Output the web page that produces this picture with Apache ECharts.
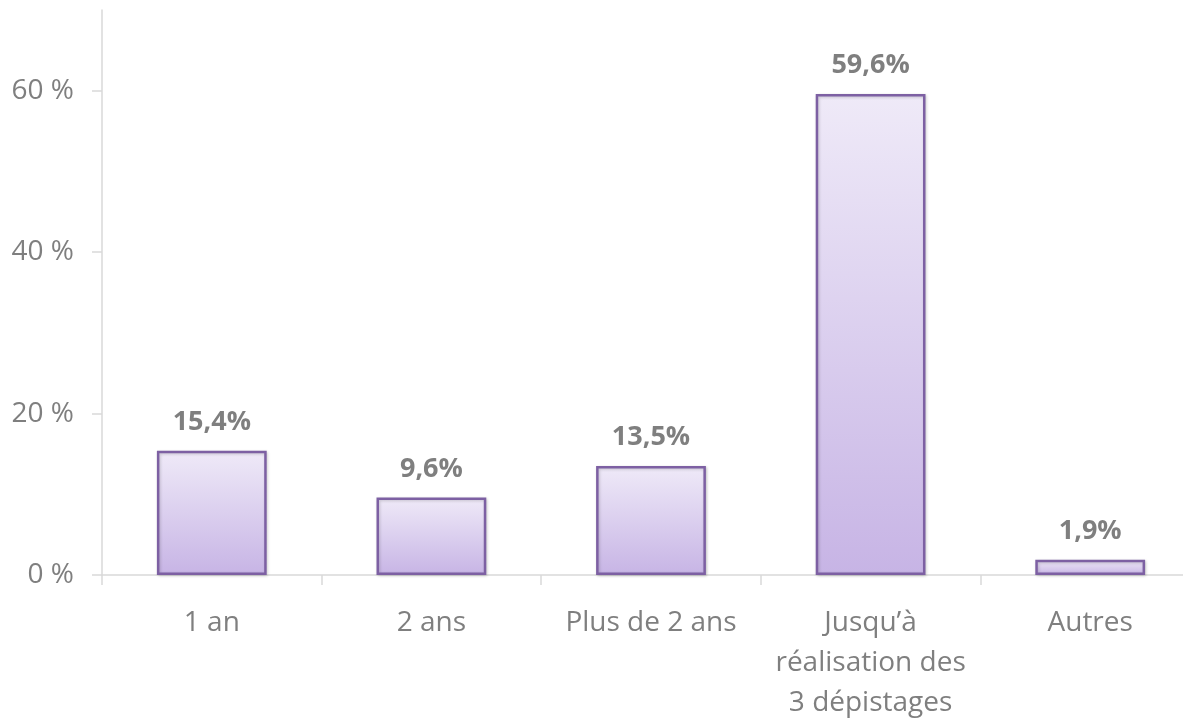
<!DOCTYPE html>
<html>
<head>
<meta charset="utf-8">
<script src="https://cdn.jsdelivr.net/npm/echarts@6/dist/echarts.min.js"></script>
<style>
  html, body { margin: 0; padding: 0; background: #ffffff; overflow: hidden; }
  #chart { width: 1183px; height: 718px; }
</style>
</head>
<body>
<div id="chart"></div>
<script>
// Durée de suivi : répartition en pourcentage
const categories = ['1 an', '2 ans', 'Plus de 2 ans', 'Jusqu\u2019à\nréalisation des\n3 dépistages', 'Autres'];
const values = [15.4, 9.6, 13.5, 59.6, 1.9];
const yTicks = [0, 20, 40, 60];

const textGray = '#7f7f7f';
const axisGray = '#d9d9d9';
const fontFamily = '"Open Sans", "Noto Sans", sans-serif';

const chart = echarts.init(document.getElementById('chart'), null, { renderer: 'canvas' });

chart.setOption({
  backgroundColor: '#ffffff',
  animation: false,
  // the plot area runs a little past the right edge of the canvas
  grid: { left: 102, width: 1098, top: 10, bottom: 143, outerBoundsMode: 'none', containLabel: false },
  xAxis: {
    type: 'category',
    data: categories,
    axisLine: { show: true, lineStyle: { color: axisGray, width: 1.5 } },
    axisTick: { show: true, length: 10, lineStyle: { color: axisGray, width: 1.5 } },
    axisLabel: {
      color: textGray,
      fontFamily: fontFamily,
      fontSize: 28,
      lineHeight: 40,
      margin: 28,
      interval: 0
    },
    splitLine: { show: false }
  },
  yAxis: {
    type: 'value',
    min: 0,
    max: 70,
    interval: 10,
    axisLine: { show: true, lineStyle: { color: axisGray, width: 1.5 } },
    axisTick: {
      show: true,
      length: 10,
      customValues: yTicks,
      lineStyle: { color: axisGray, width: 1.5 }
    },
    axisLabel: {
      color: textGray,
      fontFamily: fontFamily,
      fontSize: 28,
      margin: 28,
      customValues: yTicks,
      formatter: v => v + ' %'
    },
    splitLine: { show: false }
  },
  series: [{
    type: 'bar',
    data: values,
    barWidth: '50%',
    itemStyle: {
      color: new echarts.graphic.LinearGradient(0, 0, 0, 1, [
        { offset: 0, color: '#efeaf8' },
        { offset: 1, color: '#c7b4e5' }
      ]),
      borderColor: '#7d60a3',
      borderWidth: 2.5,
      shadowColor: 'rgba(0,0,0,0.18)',
      shadowBlur: 3,
      shadowOffsetX: 1,
      shadowOffsetY: 1
    },
    label: {
      show: true,
      position: 'top',
      distance: 15,
      color: textGray,
      fontFamily: fontFamily,
      fontSize: 27,
      fontWeight: 'bold',
      formatter: p => p.value.toFixed(1).replace('.', ',') + '%'
    }
  }]
});
</script>
</body>
</html>
